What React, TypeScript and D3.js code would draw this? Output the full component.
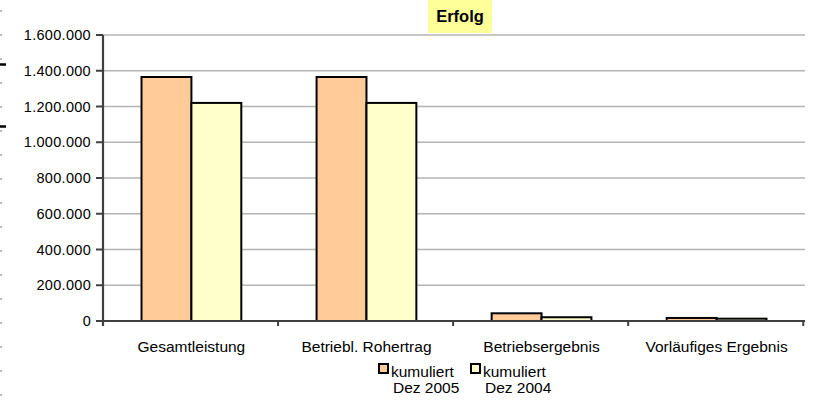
import React from "react";
import * as d3 from "d3";

const categories = ["Gesamtleistung", "Betriebl. Rohertrag", "Betriebsergebnis", "Vorläufiges Ergebnis"];
const series2005 = [1365000, 1365000, 43000, 17000];
const series2004 = [1220000, 1220000, 21000, 13000];
const seriesNames = ["kumuliert Dez 2005", "kumuliert Dez 2004"];
const seriesColors = ["#FFCC99", "#FFFFCC"];
const yTicks = [0, 200000, 400000, 600000, 800000, 1000000, 1200000, 1400000, 1600000];

const W = 813, H = 400;
const left = 103, right = 805, top = 35, bottom = 321;
const font = "Liberation Sans, Arial, sans-serif";

export default function App() {
  const x = d3.scaleBand<string>().domain(categories).range([left, right]).paddingInner(0.43).paddingOuter(0.22);
  const xs = d3.scaleBand<string>().domain(["a", "b"]).range([0, x.bandwidth()]);
  const y = d3.scaleLinear().domain([0, 1600000]).range([bottom, top]);
  const fmt = (v: number) => d3.format(",")(v).replace(/,/g, ".");
  const step = x.step();
  const catTicks = d3.range(categories.length + 1).map(i => left + i * step);
  const data = [series2005, series2004];

  return (
    <svg width={W} height={H} style={{ position: "absolute", left: 0, top: 0, background: "#fff" }}>
      {/* cut-off artifacts on the left edge */}
      <line x1={1} x2={1} y1={10} y2={400} stroke="#bbb" strokeWidth={2} strokeDasharray="2,22" />
      <line x1={0} x2={6} y1={64.5} y2={64.5} stroke="#000" strokeWidth={2.5} />
      <line x1={0} x2={6} y1={126.5} y2={126.5} stroke="#000" strokeWidth={2.5} />

      {/* title */}
      <rect x={428} y={0} width={64} height={33} fill="#FFFF99" />
      <text x={460} y={22} textAnchor="middle" fontFamily={font} fontWeight="bold" fontSize={16.5}>Erfolg</text>

      {/* gridlines */}
      {yTicks.filter(t => t > 0).map(t => (
        <line key={t} x1={left} x2={right} y1={y(t)} y2={y(t)} stroke="#b4b4b4" strokeWidth={1.3} />
      ))}

      {/* bars */}
      {categories.map((c, i) => (
        <g key={c}>
          {data.map((s, j) => (
            <rect key={j}
              x={(x(c) as number) + (xs(j === 0 ? "a" : "b") as number)}
              y={y(s[i])}
              width={xs.bandwidth()}
              height={bottom - y(s[i])}
              fill={seriesColors[j]} stroke="#000" strokeWidth={2} />
          ))}
        </g>
      ))}

      {/* y axis */}
      <line x1={left} x2={left} y1={top} y2={bottom + 5} stroke="#404040" strokeWidth={2.2} />
      {yTicks.map(t => (
        <g key={t}>
          <line x1={96} x2={left} y1={y(t)} y2={y(t)} stroke="#404040" strokeWidth={2} />
          <text x={91} y={y(t) + 5} textAnchor="end" fontFamily={font} fontSize={14.5} letterSpacing={0.3}>{fmt(t)}</text>
        </g>
      ))}

      {/* x axis */}
      <line x1={left - 1} x2={right} y1={bottom} y2={bottom} stroke="#404040" strokeWidth={2.2} />
      {catTicks.map((t, i) => (
        <line key={i} x1={t} x2={t} y1={bottom} y2={bottom + 5} stroke="#404040" strokeWidth={2} />
      ))}
      {categories.map(c => (
        <text key={c} x={(x(c) as number) + x.bandwidth() / 2} y={352} textAnchor="middle" fontFamily={font} fontSize={15.5}>{c}</text>
      ))}

      {/* legend */}
      {seriesNames.map((n, j) => {
        const lx = 378 + j * 92;
        const parts = n.split(" ");
        return (
          <g key={n}>
            <rect x={lx + 1} y={364} width={9} height={9} fill={seriesColors[j]} stroke="#000" strokeWidth={2} />
            <text x={lx + 13} y={377} fontFamily={font} fontSize={15.5}>{parts[0]}</text>
            <text x={lx + 15} y={393} fontFamily={font} fontSize={15.5}>{parts.slice(1).join(" ")}</text>
          </g>
        );
      })}
    </svg>
  );
}
